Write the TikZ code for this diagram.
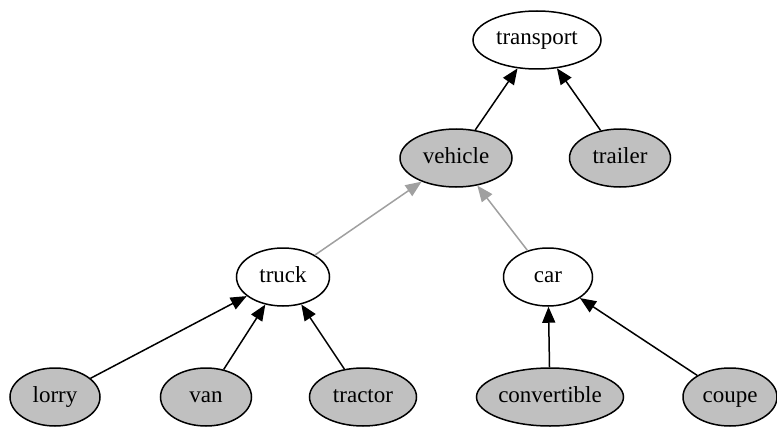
\documentclass[tikz,border=0pt]{standalone}
\usepackage{fontspec}
\setmainfont{Liberation Serif}
\usepackage{tikz}
\usetikzlibrary{arrows,arrows.meta,shapes.geometric,positioning}
\definecolor{nodegray}{HTML}{C0C0C0}
\definecolor{edgegray}{HTML}{A0A0A0}

\begin{document}
\begin{tikzpicture}
			[x=1pt, y=-1pt, inner sep=0pt, font=\fontsize{23}{27}\selectfont,
			plain/.style	= {draw, ellipse, line width=1.5pt, fill=white, minimum width=89pt, minimum height=58pt,
								text height=15pt, text depth=5pt},
			shaded/.style	= {plain, fill=nodegray},
			isa/.style		= {line width=1.5pt, -{Triangle[length=16pt, width=13pt]}},
			isagray/.style	= {isa, draw=edgegray, fill=edgegray}]

			\useasboundingbox (0,0) rectangle (777,428);

			\node [plain, minimum width=128pt]		at (537,40)		(transport)		{transport};
			\node [shaded, minimum width=112pt]		at (456,158)	(vehicle)		{vehicle};
			\node [shaded, minimum width=101pt]		at (620,158)	(trailer)		{trailer};
			\node [plain, minimum width=93pt]		at (283,277)	(truck)			{truck};
			\node [plain]							at (548,277)	(car)			{car};
			\node [shaded, minimum width=90pt]		at (55,397)		(lorry)			{lorry};
			\node [shaded, minimum width=91pt]		at (206,397)	(van)			{van};
			\node [shaded, minimum width=107pt]		at (363,397)	(tractor)		{tractor};
			\node [shaded, minimum width=147pt]		at (550,397)	(convertible)	{convertible};
			\node [shaded, minimum width=94pt]		at (730,397)	(coupe)			{coupe};

			\draw [isa]		(vehicle)		-- (transport);
			\draw [isa]		(trailer)		-- (transport);
			\draw [isagray]	(truck)			-- (vehicle);
			\draw [isagray]	(car)			-- (vehicle);
			\draw [isa]		(lorry)			-- (truck);
			\draw [isa]		(van)			-- (truck);
			\draw [isa]		(tractor)		-- (truck);
			\draw [isa]		(convertible)	-- (car);
			\draw [isa]		(coupe)			-- (car);
\end{tikzpicture}
\end{document}
